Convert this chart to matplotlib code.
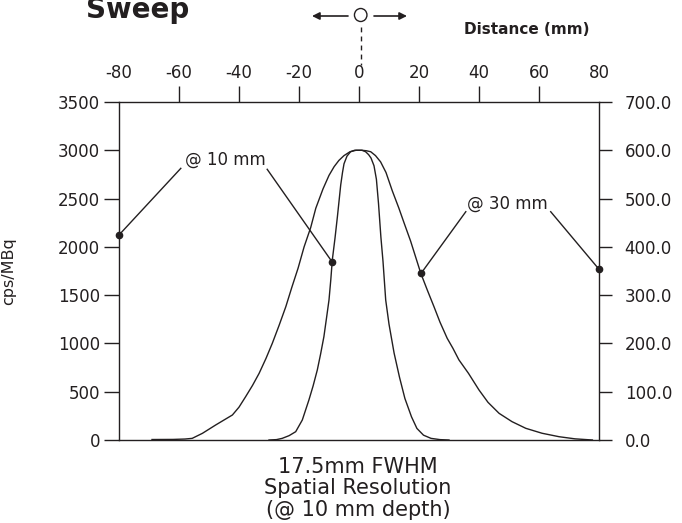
import numpy as np
import matplotlib
matplotlib.use("Agg")
import matplotlib.pyplot as plt
from matplotlib.patches import Ellipse, FancyArrowPatch
from matplotlib.lines import Line2D

plt.rcParams['font.family'] = ['DejaVu Sans']

INK = '#231f20'

# distance (mm) / cps per MBq for the two sweeps
dist_10mm = [-30, -27.5, -25.6, -23.3, -21.1, -18.9, -16.7, -15.3, -13.9, -12.8, -11.7, -10.8,
             -10, -9.4, -8.9, -8.0, -7.2, -6.6, -6.1, -5.5, -5, -4, -2.8, -1.5, 0,
             1, 2.2, 3.2, 4, 5, 5.8, 6.5, 7.3, 8, 8.9, 10, 11.7, 13.5, 15.3, 17.5,
             19.3, 21.5, 24, 27, 30]
cps_10mm = [0, 4, 17, 45, 86, 207, 414, 560, 725, 890, 1070, 1270,
            1450, 1660, 1864, 2090, 2312, 2490, 2640, 2770, 2860, 2940, 2985, 3000, 3000,
            3000, 2985, 2955, 2920, 2840, 2700, 2450, 2100, 1850, 1450, 1200, 900, 650, 430, 240,
            120, 50, 17, 4, 0]

dist_30mm = [-69, -62, -58, -55.6, -52.2, -47.8, -42.2, -40, -37.8, -35.5, -33.3, -31, -28.9,
             -26.6, -24.4, -22.4, -20.3, -18.3, -16.1, -14.4, -12, -10, -8.3, -6.7,
             -5, -3, -1, 1, 2.5, 3.9, 5.5, 7.2, 9, 11.1, 13.3, 15, 17.2, 20.6, 22.8, 25,
             27, 29.4, 31.3, 33.3, 36.5, 40, 43, 46.7, 51, 55.6, 61, 66.7, 72, 77.8]
cps_30mm = [5, 6, 10, 17, 69, 155, 259, 340, 448, 565, 690, 845, 1001,
            1190, 1380, 1580, 1780, 2000, 2200, 2400, 2600, 2740, 2830, 2895,
            2945, 2985, 3000, 3000, 2995, 2985, 2945, 2880, 2770, 2580, 2400, 2250, 2060, 1726, 1550, 1380,
            1220, 1053, 950, 830, 690, 518, 390, 276, 190, 121, 70, 34, 12, 0]

# callout dots and label anchors
dots_10mm = [(-80, 2123), (-9.0, 1846)]
label_10mm = (-44.7, 2900)
ends_10mm = [(-59.4, 2813), (-30.6, 2803)]
dots_30mm = [(20.7, 1726), (80, 1768)]
label_30mm = (49.5, 2444)
ends_30mm = [(35.6, 2364), (63.9, 2364)]

x_ticks = [-80, -60, -40, -20, 0, 20, 40, 60, 80]
left_ticks = [0, 500, 1000, 1500, 2000, 2500, 3000, 3500]
right_ticks = [0, 100, 200, 300, 400, 500, 600, 700]

W, H = 682, 523
fig = plt.figure(figsize=(W / 100, H / 100), dpi=100)
ax = fig.add_axes([119 / W, 1 - 440 / H, 480 / W, 338 / H])

ax.plot(dist_30mm, cps_30mm, color=INK, lw=1.0, solid_joinstyle='round')
ax.plot(dist_10mm, cps_10mm, color=INK, lw=1.0, solid_joinstyle='round')

for dots, ends, lab, txt in [(dots_10mm, ends_10mm, label_10mm, '@ 10 mm'),
                             (dots_30mm, ends_30mm, label_30mm, '@ 30 mm')]:
    for (dx, dy), (ex, ey) in zip(dots, ends):
        ax.plot([dx, ex], [dy, ey], color=INK, lw=1.0, clip_on=False)
        ax.plot(dx, dy, 'o', color=INK, ms=4.5, clip_on=False)
    ax.text(lab[0], lab[1], txt, ha='center', va='center', fontsize=12, color=INK)

ax.set_xlim(-80, 80)
ax.set_ylim(0, 3500)
ax.xaxis.tick_top()
ax.set_xticks(x_ticks)
ax.set_xticklabels([str(v) for v in x_ticks])
ax.tick_params(axis='x', top=True, bottom=False, direction='out', length=11.5,
               width=1.0, pad=3, labelsize=12, colors=INK)
for t in (ax.xaxis.get_major_ticks()[0], ax.xaxis.get_major_ticks()[-1]):
    t.tick2line.set_visible(False)
ax.set_yticks(left_ticks)
ax.tick_params(axis='y', direction='out', length=10.5, width=1.0, pad=3,
               labelsize=12, colors=INK)
ax.set_ylabel('cps/MBq', fontsize=11.5, color=INK, labelpad=30)
for s in ax.spines.values():
    s.set_linewidth(1.0)
    s.set_color(INK)

ax2 = ax.twinx()
ax2.set_ylim(0, 700)
ax2.set_yticks(right_ticks)
ax2.set_yticklabels(['%.1f' % v for v in right_ticks])
ax2.tick_params(axis='y', direction='out', length=9.5, width=1.0, pad=9,
                labelsize=12, colors=INK)
for s in ax2.spines.values():
    s.set_visible(False)

# header: title, sweep symbol, axis name
fig.text(86 / W, 1 - 18 / H, 'Sweep', fontsize=20, fontweight='bold', color=INK,
         ha='left', va='baseline')
fig.text(527 / W, 1 - 30 / H, 'Distance (mm)', fontsize=11, fontweight='bold', color=INK,
         ha='center', va='center')
cx, cy = 360.7, 15
fig.add_artist(Ellipse((cx / W, 1 - cy / H), 12.5 / W, 13 / H, transform=fig.transFigure,
                       fill=False, lw=1.0, ec=INK))
arrow = dict(arrowstyle='-|>', mutation_scale=11, lw=1.2, color=INK, shrinkA=0, shrinkB=0)
fig.add_artist(FancyArrowPatch((348 / W, 1 - 16 / H), (312 / W, 1 - 16 / H),
                               transform=fig.transFigure, **arrow))
fig.add_artist(FancyArrowPatch((374 / W, 1 - 16 / H), (407 / W, 1 - 16 / H),
                               transform=fig.transFigure, **arrow))
fig.add_artist(Line2D([cx / W, cx / W], [1 - 27 / H, 1 - 65 / H], transform=fig.transFigure,
                      lw=1.0, color=INK, linestyle=(0, (3.5, 3))))

# caption under the plot
for yy, line in [(467, '17.5mm FWHM'), (488.5, 'Spatial Resolution'), (510, '(@ 10 mm depth)')]:
    fig.text(358 / W, 1 - yy / H, line, fontsize=15, color=INK, ha='center', va='center')

fig.savefig('out.png', dpi=100)
